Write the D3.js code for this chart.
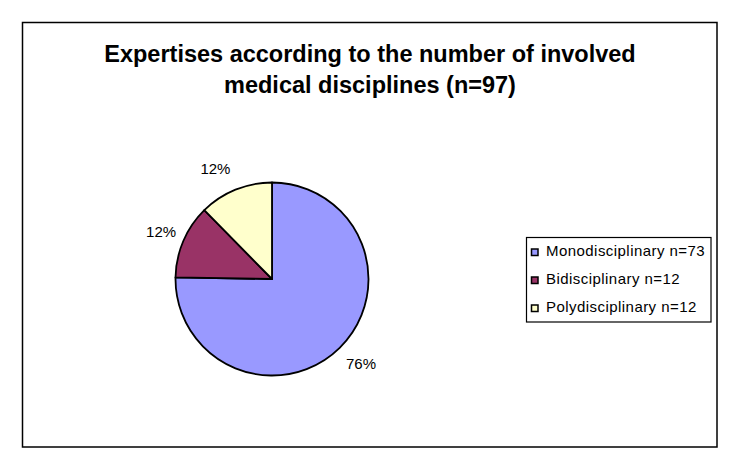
<!DOCTYPE html>
<html>
<head>
<meta charset="utf-8">
<script src="https://cdn.jsdelivr.net/npm/d3@7"></script>
<style>
  html, body { margin: 0; padding: 0; background: #fff; }
  svg { display: block; font-family: "Liberation Sans", Arial, sans-serif; }
</style>
</head>
<body>
<svg id="chart" width="740" height="470"></svg>
<script>
// ---- data ----
const titleLines = ["Expertises according to the number of involved", "medical disciplines (n=97)"];
const categories = ["Monodisciplinary", "Bidisciplinary", "Polydisciplinary"];
const counts = [73, 12, 12];
const percentLabels = ["76%", "12%", "12%"];
const colors = ["#9999FF", "#993366", "#FFFFCC"];

const svg = d3.select("#chart");

// outer frame
svg.append("rect")
  .attr("x", 22.5).attr("y", 22.5)
  .attr("width", 694.5).attr("height", 424.5)
  .attr("fill", "#fff").attr("stroke", "#000").attr("stroke-width", 1.5);

// title
svg.append("text")
  .attr("text-anchor", "middle")
  .attr("font-weight", "bold")
  .attr("font-size", 23.5)
  .attr("fill", "#000")
  .selectAll("tspan")
  .data(titleLines)
  .join("tspan")
  .attr("x", 370)
  .attr("y", (d, i) => 62 + i * 31.3)
  .text(d => d);

// pie
const cx = 272, cy = 279, R = 96.5;
const data = categories.map((c, i) => ({ name: c, value: counts[i], color: colors[i], pct: percentLabels[i] }));
const pie = d3.pie().value(d => d.value).sort(null);
const arcs = pie(data);
const arc = d3.arc().innerRadius(0).outerRadius(R);
const labelArc = d3.arc().innerRadius(119).outerRadius(119);

const g = svg.append("g").attr("transform", `translate(${cx},${cy})`);
g.selectAll("path.slice")
  .data(arcs)
  .join("path")
  .attr("class", "slice")
  .attr("d", arc)
  .attr("fill", d => d.data.color)
  .attr("stroke", "#000")
  .attr("stroke-width", 1.8)
  .attr("stroke-linejoin", "round");

g.selectAll("text.pct")
  .data(arcs)
  .join("text")
  .attr("class", "pct")
  .attr("text-anchor", "middle")
  .attr("font-size", 15)
  .attr("fill", "#000")
  .attr("x", d => {
    const [x] = labelArc.centroid(d);
    const a = (d.startAngle + d.endAngle) / 2;
    const s = Math.sin(a);
    return x + Math.sign(s) * (1 - Math.abs(s)) * 18.5;
  })
  .attr("y", d => labelArc.centroid(d)[1] + 5)
  .text(d => d.data.pct);

// legend
const lg = svg.append("g");
lg.append("rect")
  .attr("x", 526.5).attr("y", 237.5)
  .attr("width", 184.5).attr("height", 84.5)
  .attr("fill", "#fff").attr("stroke", "#000").attr("stroke-width", 1.2);

const rowY = d3.scalePoint().domain(categories).range([256, 312]);
const items = lg.selectAll("g.item")
  .data(data)
  .join("g")
  .attr("class", "item");
items.append("rect")
  .attr("x", 531.5)
  .attr("y", d => rowY(d.name) - 7)
  .attr("width", 6.5).attr("height", 6.5)
  .attr("fill", d => d.color)
  .attr("stroke", "#000")
  .attr("stroke-width", 1.5);
items.append("text")
  .attr("x", 546)
  .attr("y", d => rowY(d.name))
  .attr("font-size", 15)
  .attr("letter-spacing", 0.45)
  .attr("fill", "#000")
  .text(d => `${d.name} n=${d.value}`);
</script>
</body>
</html>
